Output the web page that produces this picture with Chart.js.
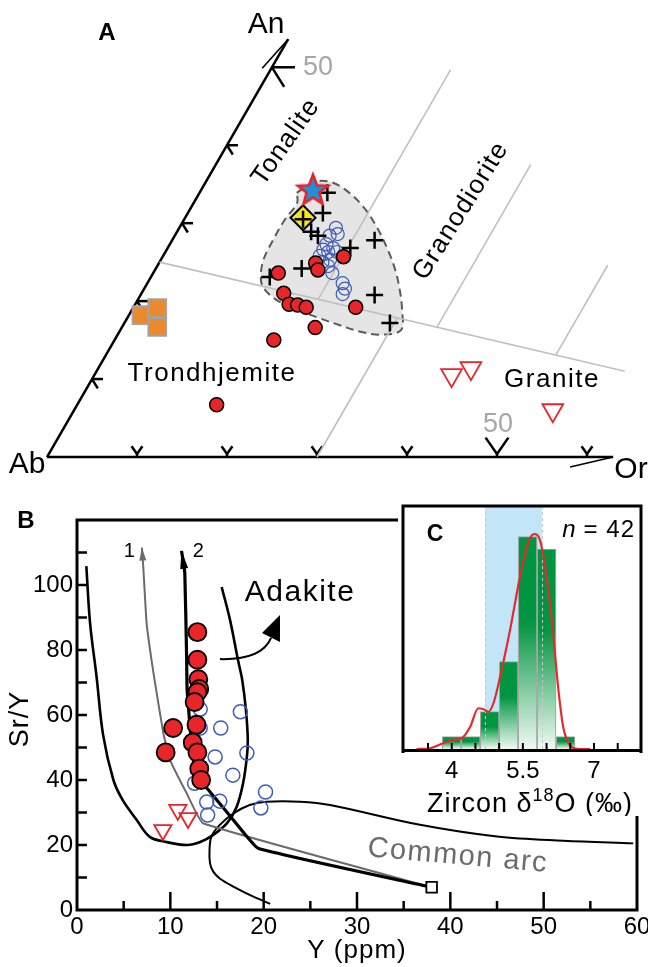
<!DOCTYPE html>
<html>
<head>
<meta charset="utf-8">
<script src="https://cdn.jsdelivr.net/npm/chart.js@4.4.0/dist/chart.umd.min.js"></script>
<style>
  html, body { margin: 0; padding: 0; background: #fff; }
  #wrap { position: relative; width: 648px; height: 967px; overflow: hidden; }
  canvas { position: absolute; }
  #chartA { left: 0; top: 0; }
  #chartB { left: 0; top: 485px; }
  #chartC { left: 398px; top: 500px; background: #fff; }
</style>
</head>
<body>
<div id="wrap">
  <canvas id="chartA" width="648" height="485"></canvas>
  <canvas id="chartB" width="648" height="482"></canvas>
  <canvas id="chartC" width="250" height="316"></canvas>
</div>
<script>
// ---------- Panel A: An-Ab-Or ternary, values are [An %, Or %] ----------
const aRedCircles = [[23.6, 13.9], [21.0, 15.8], [19.6, 17.1], [19.5, 18.1], [19.2, 19.2], [16.6, 21.5],
  [15.0, 17.7], [6.7, 15.5], [24.9, 17.4], [24.0, 18.1], [25.7, 20.1], [19.2, 24.7]];
const aPlusSigns = [[33.9, 14.2], [31.3, 15.0], [28.9, 14.9], [28.4, 15.9], [24.2, 16.2], [23.1, 13.2],
  [27.8, 22.5], [26.8, 20.3], [20.8, 26.0], [17.2, 29.5], [30.5, 13.2]];
const aBlueCircles = [[29.4, 17.4], [28.6, 18.0], [28.4, 17.2], [27.3, 17.4], [26.6, 17.4], [25.8, 17.4],
  [26.3, 18.1], [26.8, 18.4], [26.3, 19.1], [25.3, 18.8], [24.5, 19.0], [23.6, 19.9], [22.3, 21.7],
  [21.6, 22.3], [20.9, 22.4], [25.0, 18.1]];
const aStar = [[34.3, 12.4]];
const aDiamond = [[30.7, 13.1]];
const aOrangeSquares = [[18.2, 1.4], [19.1, 2.7], [16.7, 3.9]];
const aTriangles = [[10.5, 39.7], [11.4, 41.4], [6.0, 53.2]];
const aField = [[33.9, 10.8], [35.3, 12.1], [35.3, 13.8], [34.3, 16.0], [32.1, 19.1], [29.5, 21.9],
  [26.9, 24.3], [24.0, 26.7], [21.4, 28.5], [18.9, 30.0], [16.3, 31.2], [15.7, 29.5], [16.0, 27.1],
  [16.9, 24.1], [17.8, 21.4], [18.9, 18.4], [20.1, 15.5], [21.7, 13.2], [23.1, 12.2], [25.3, 11.4],
  [27.8, 11.2], [30.4, 11.2], [32.6, 11.5], [33.9, 10.8]];
const aClassLines = [
  [[25, 0], [11, 58.7]],
  [[0, 30], [17.9, 30]],
  [[20.3, 20], [49.7, 20]],
  [[16.7, 35], [37.5, 35]],
  [[13.1, 50], [24.6, 50]]
];
const anTicks = [10, 20, 30, 40, 50];
const orTicks = [10, 20, 30, 40, 50, 60];
const anAxisEnd = 53.6;
const orAxisEnd = 62.9;

// ---------- Panel B: Sr/Y vs Y (ppm) ----------
const bRedCircles = [[12.9, 85.5], [12.9, 77], [13, 71], [13.1, 68], [12.9, 67], [12.6, 64], [12.8, 57],
  [10.3, 56], [12.4, 51.5], [12.9, 48.5], [9.5, 48.5], [13.1, 43.5], [13.3, 40]];
const bBlueCircles = [[13.2, 61.8], [17.5, 61], [15.4, 56], [13.2, 56], [18.2, 48.3], [14.8, 47.1],
  [16.7, 41.5], [12.6, 39], [20.2, 36.3], [13.9, 33.2], [15.3, 33.5], [14, 29.2], [19.7, 31.4]];
const bTriangles = [[10.8, 30.8], [11.9, 28.3], [9.2, 24.6]];
const bSource = [[38, 7]];
const adakiteField = [[1, 105.8], [1.4, 88.3], [2.1, 71.7], [2.8, 53.8], [3.9, 40], [4.9, 33.8], [6.4, 27.7],
  [7.8, 22.5], [9.6, 20.9], [11.8, 20], [13.2, 20.9], [14.6, 23.1], [16.1, 26.8], [17.1, 31.7], [17.8, 39.1],
  [18.2, 47.1], [18.3, 52.3], [18.1, 61.5], [17.7, 70.8], [17.25, 76.9], [16.4, 89.2], [15.5, 99.4]];
const commonArcField = [[20.7, 1.9], [18.9, 4.1], [16.75, 7.2], [15.3, 9.7], [14.6, 11.8], [14.25, 14.4],
  [14.2, 18.5], [14.4, 22.6], [15.3, 26.2], [16.75, 29.7], [18.5, 32.3], [20.3, 33.3], [23.9, 33.3],
  [27.1, 32.3], [36.75, 26.2], [45, 22.6], [52.1, 21.3], [59.6, 20.5]];
const trend1 = [[6.95, 111.5], [7.1, 105.6], [7.46, 88.2], [8.2, 72.8], [9.25, 54.4], [9.96, 46.2],
  [11.75, 35.9], [13.5, 26.7], [38, 7]];
const trend2 = [[11.2, 110.5], [11.55, 103.7], [11.75, 77], [11.8, 67.7], [12.45, 46.2], [13.5, 39],
  [15, 33.8], [16.75, 27.7], [19.4, 19], [38, 7]];

// ---------- Panel C: zircon d18O histogram ----------
const binCenters = [4.0, 4.4, 4.8, 5.2, 5.6, 6.0, 6.4];
const binCounts = [1, 1, 3, 7, 17, 16, 1];
const kdeX = [3.26, 3.54, 3.82, 4.03, 4.21, 4.39, 4.56, 4.67, 4.77, 4.88, 5.02, 5.23, 5.44, 5.62, 5.74,
  5.86, 6.0, 6.13, 6.25, 6.35, 6.49, 6.67, 6.92];
const kdeY = [0, 0.06, 0.46, 0.72, 0.86, 1.78, 3.26, 3.18, 2.98, 3.66, 5.78, 9.52, 13.78, 16.58, 17.2,
  16.72, 13.78, 9.52, 4.72, 1.78, 0.32, 0, 0];
const mantleBand = [4.7, 5.9];
const cTickValues = [4, 5.5, 7];
const cMinorTicks = [3.5, 4, 4.5, 5, 5.5, 6, 6.5, 7, 7.5];

const FONT = "'Liberation Sans', Arial, Helvetica, sans-serif";
const RED = '#e8262a';
const BLUE = '#3f5cb5';
Chart.defaults.font.family = FONT;
Chart.defaults.color = '#000';

// --- helpers ---
const SQ3 = Math.sqrt(3);
const toXY = (an, or) => ({ x: (or + an / 2) / 100, y: an * SQ3 / 200 });
const tern = arr => arr.map(([an, or]) => toXY(an, or));
const xy = arr => arr.map(([x, y]) => ({ x, y }));

function seg(ctx, p, q) {
  ctx.beginPath();
  ctx.moveTo(p[0], p[1]);
  ctx.lineTo(q[0], q[1]);
  ctx.stroke();
}

function label(ctx, str, x, y, o = {}) {
  ctx.save();
  ctx.font = o.font || `24px ${FONT}`;
  ctx.fillStyle = o.color || '#000';
  ctx.textAlign = o.align || 'center';
  ctx.textBaseline = o.baseline || 'middle';
  if (o.spacing) ctx.letterSpacing = o.spacing + 'px';
  ctx.translate(x, y);
  if (o.rot) ctx.rotate(o.rot * Math.PI / 180);
  ctx.fillText(str, 0, 0);
  ctx.restore();
}

const starImg = (() => {
  const c = document.createElement('canvas');
  c.width = 40; c.height = 40;
  const g = c.getContext('2d');
  g.beginPath();
  for (let i = 0; i < 10; i++) {
    const r = i % 2 ? 6.8 : 16;
    const a = -Math.PI / 2 + i * Math.PI / 5;
    g.lineTo(20 + r * Math.cos(a), 21 + r * Math.sin(a));
  }
  g.closePath();
  g.fillStyle = '#1f8fd6';
  g.fill();
  g.lineWidth = 2.6;
  g.strokeStyle = '#e3252b';
  g.stroke();
  return c;
})();

// --- Panel A plugin: triangle frame, ticks, labels ---
const ternaryFrame = {
  id: 'ternaryFrame',
  beforeDatasetsDraw(chart) {
    const { ctx, scales: { x, y } } = chart;
    const P = (an, or) => { const p = toXY(an, or); return [x.getPixelForValue(p.x), y.getPixelForValue(p.y)]; };
    ctx.save();
    ctx.strokeStyle = '#000';
    ctx.lineWidth = 2.5;
    seg(ctx, P(0, 0), P(anAxisEnd, 0));
    seg(ctx, P(0, 0), P(0, orAxisEnd));
    anTicks.forEach(v => {
      const [px, py] = P(v, 0);
      const L = v === 50 ? 23 : 11;
      seg(ctx, [px, py], [px + L, py]);
      seg(ctx, [px, py], [px + L * 0.53, py + L * 0.85]);
    });
    orTicks.forEach(v => {
      const [px, py] = P(0, v);
      const L = v === 50 ? 20 : 9.5;
      const s = 3;
      seg(ctx, [px, py], [px, py - s]);
      seg(ctx, [px, py - s], [px - L * 0.57, py - s - L * 0.82]);
      seg(ctx, [px, py - s], [px + L * 0.57, py - s - L * 0.82]);
    });
    ctx.lineWidth = 1.6;
    const a = P(anAxisEnd, 0);
    seg(ctx, a, [a[0] - 26, a[1] + 29]);
    const o = P(0, orAxisEnd);
    seg(ctx, o, [o[0] - 43, o[1] + 10]);
    ctx.restore();
  },
  afterDatasetsDraw(chart) {
    const ctx = chart.ctx;
    label(ctx, 'A', 107, 33, { font: `bold 24px ${FONT}` });
    label(ctx, 'An', 266, 25, { font: `30px ${FONT}` });
    label(ctx, 'Ab', 27, 465, { font: `30px ${FONT}` });
    label(ctx, 'Or', 631, 470, { font: `30px ${FONT}` });
    label(ctx, '50', 318, 68, { font: `27px ${FONT}`, color: '#a6a6a6' });
    label(ctx, '50', 498, 425, { font: `27px ${FONT}`, color: '#a6a6a6' });
    label(ctx, 'Tonalite', 286, 142, { font: `26px ${FONT}`, spacing: 1.2, rot: -55 });
    label(ctx, 'Granodiorite', 461, 211, { font: `26px ${FONT}`, spacing: 1.2, rot: -58 });
    label(ctx, 'Trondhjemite', 212, 374, { font: `26px ${FONT}`, spacing: 1.5 });
    label(ctx, 'Granite', 552, 380, { font: `26px ${FONT}`, spacing: 1.5 });
  }
};

new Chart(document.getElementById('chartA'), {
  type: 'scatter',
  data: {
    datasets: [
      { data: tern(aStar), pointStyle: starImg, order: 0 },
      { data: tern(aRedCircles), pointRadius: 7, pointBackgroundColor: RED, pointBorderColor: '#000',
        pointBorderWidth: 1.5, order: 1 },
      { data: tern(aPlusSigns), pointStyle: 'cross', pointRadius: 8.5, pointBorderColor: '#000',
        pointBorderWidth: 2.5, order: 2 },
      { data: tern(aDiamond), pointStyle: 'rectRot', pointRadius: 12.5, pointBackgroundColor: '#f6e51b',
        pointBorderColor: '#000', pointBorderWidth: 2, order: 3 },
      { data: tern(aBlueCircles), pointRadius: 6.5, pointBackgroundColor: 'rgba(0,0,0,0)',
        pointBorderColor: BLUE, pointBorderWidth: 1.2, order: 4 },
      { data: tern(aOrangeSquares), pointStyle: 'rect', pointRadius: 12.5, pointBackgroundColor: '#eb8a2c',
        pointBorderColor: '#a3a3a3', pointBorderWidth: 2, order: 5 },
      { data: tern(aTriangles), pointStyle: 'triangle', pointRotation: 180, pointRadius: 12,
        pointBackgroundColor: 'rgba(0,0,0,0)', pointBorderColor: RED, pointBorderWidth: 1.8, order: 5 },
      ...aClassLines.map(l => ({ data: tern(l), showLine: true, borderColor: '#c0c0c0', borderWidth: 1.6,
        pointRadius: 0, order: 8 })),
      { data: tern(aField), showLine: true, fill: 'shape', backgroundColor: '#e5e5e5', borderColor: '#5a5a5a',
        borderDash: [8, 5], borderWidth: 2, tension: 0.35, pointRadius: 0, order: 9 }
    ]
  },
  options: {
    responsive: false, animation: false, events: [], devicePixelRatio: 1,
    layout: { padding: 0, autoPadding: false },
    plugins: { legend: { display: false }, tooltip: { enabled: false } },
    scales: {
      x: { display: false, min: -47 / 900, max: 601 / 900 },
      y: { display: false, min: -28 / 900, max: 457 / 900 }
    }
  },
  plugins: [ternaryFrame]
});

// --- Panel B plugin: box, inward ticks, arrows, labels ---
const srYFrame = {
  id: 'srYFrame',
  beforeDatasetsDraw(chart) {
    const { ctx, chartArea: a, scales: { x, y } } = chart;
    ctx.save();
    ctx.strokeStyle = '#000';
    ctx.lineWidth = 3;
    ctx.strokeRect(a.left, a.top, a.right - a.left, a.bottom - a.top);
    ctx.lineWidth = 2.5;
    for (let v = 5; v < 60; v += 5) {
      const px = x.getPixelForValue(v);
      seg(ctx, [px, a.bottom], [px, a.bottom - (v % 10 === 0 ? 18 : 9)]);
    }
    for (let v = 10; v < 120; v += 10) {
      const py = y.getPixelForValue(v);
      seg(ctx, [a.left, py], [a.left + 10, py]);
    }
    ctx.restore();
  },
  afterDatasetsDraw(chart) {
    const { ctx, scales: { x, y } } = chart;
    const P = (vx, vy) => [x.getPixelForValue(vx), y.getPixelForValue(vy)];
    const arrowHead = (line, color, len, half) => {
      const [tx, ty] = P(...line[0]);
      const [nx, ny] = P(...line[1]);
      const d = Math.hypot(nx - tx, ny - ty);
      const ux = (nx - tx) / d, uy = (ny - ty) / d;
      ctx.beginPath();
      ctx.moveTo(tx, ty);
      ctx.lineTo(tx + ux * len - uy * half, ty + uy * len + ux * half);
      ctx.lineTo(tx + ux * len + uy * half, ty + uy * len - ux * half);
      ctx.closePath();
      ctx.fillStyle = color;
      ctx.fill();
    };
    ctx.save();
    arrowHead(trend1, '#6b6b6b', 13, 3.5);
    arrowHead(trend2, '#000', 18, 4);
    // adakite arrow
    ctx.strokeStyle = '#000';
    ctx.lineWidth = 2;
    const s0 = P(15.32, 77.2), c0 = P(19.82, 76.9), e0 = P(20.79, 83.7);
    ctx.beginPath();
    ctx.moveTo(...s0);
    ctx.quadraticCurveTo(...c0, ...e0);
    ctx.stroke();
    const t = P(21.75, 90.8), b1 = P(19.82, 85.2), b2 = P(21.75, 82.5);
    ctx.beginPath();
    ctx.moveTo(...t); ctx.lineTo(...b1); ctx.lineTo(...b2); ctx.closePath();
    ctx.fillStyle = '#000';
    ctx.fill();
    ctx.restore();

    label(ctx, 'B', 26, 36, { font: `bold 24px ${FONT}` });
    label(ctx, 'Sr/Y', 21, 234, { font: `27px ${FONT}`, spacing: 1, rot: -90 });
    label(ctx, 'Y (ppm)', 357, 466, { font: `26px ${FONT}`, spacing: 1 });
    label(ctx, '1', ...P(5.6, 110.2), { font: `20px ${FONT}` });
    label(ctx, '2', ...P(13, 110.2), { font: `20px ${FONT}` });
    label(ctx, 'Adakite', ...P(23.9, 97.5), { font: `30px ${FONT}`, spacing: 1.5 });
    label(ctx, 'Common arc', ...P(40.8, 16.6), { font: `29px ${FONT}`, spacing: 1.5, color: '#6b6b6b', rot: 5 });
  }
};

new Chart(document.getElementById('chartB'), {
  type: 'scatter',
  data: {
    datasets: [
      { data: xy(bRedCircles), pointRadius: 9, pointBackgroundColor: RED, pointBorderColor: '#000',
        pointBorderWidth: 1.8, order: 0 },
      { data: xy(bTriangles), pointStyle: 'triangle', pointRotation: 180, pointRadius: 10,
        pointBackgroundColor: 'rgba(0,0,0,0)', pointBorderColor: RED, pointBorderWidth: 1.8, order: 1 },
      { data: xy(bBlueCircles), pointRadius: 7, pointBackgroundColor: 'rgba(0,0,0,0)', pointBorderColor: BLUE,
        pointBorderWidth: 1.5, order: 2 },
      { data: xy(bSource), pointStyle: 'rect', pointRadius: 7.5, pointBackgroundColor: '#fff',
        pointBorderColor: '#000', pointBorderWidth: 1.8, order: 3 },
      { data: xy(trend2), showLine: true, borderColor: '#000', borderWidth: 3.2, tension: 0.1, pointRadius: 0, order: 4 },
      { data: xy(trend1), showLine: true, borderColor: '#6b6b6b', borderWidth: 2, tension: 0.1, pointRadius: 0, order: 5 },
      { data: xy(adakiteField), showLine: true, borderColor: '#000', borderWidth: 2.6, tension: 0.35, pointRadius: 0, order: 6 },
      { data: xy(commonArcField), showLine: true, borderColor: '#000', borderWidth: 2, tension: 0.35, pointRadius: 0, order: 6 }
    ]
  },
  options: {
    responsive: false, animation: false, events: [], devicePixelRatio: 1,
    layout: { padding: { top: 35, right: 11, bottom: 0, left: 0 }, autoPadding: false },
    plugins: { legend: { display: false }, tooltip: { enabled: false } },
    scales: {
      x: {
        type: 'linear', min: 0, max: 60,
        grid: { display: false, drawTicks: false }, border: { display: false },
        ticks: { stepSize: 10, padding: 3, font: { size: 24 }, color: '#000' },
        afterFit(s) { s.height = 57; s.paddingLeft = 0; s.paddingRight = 0; }
      },
      y: {
        type: 'linear', min: 0, max: 120,
        grid: { display: false, drawTicks: false }, border: { display: false },
        ticks: { stepSize: 20, padding: 4, font: { size: 24 }, color: '#000', callback: v => (v > 100 ? '' : v) },
        afterFit(s) { s.width = 77; s.paddingTop = 0; s.paddingBottom = 0; }
      }
    }
  },
  plugins: [srYFrame]
});

// --- Panel C plugin: mantle band, frame, ticks, labels ---
const zirconFrame = {
  id: 'zirconFrame',
  beforeDatasetsDraw(chart) {
    const { ctx, chartArea: a, scales: { x } } = chart;
    const x0 = x.getPixelForValue(mantleBand[0]), x1 = x.getPixelForValue(mantleBand[1]);
    ctx.save();
    ctx.fillStyle = '#c2e5f7';
    ctx.fillRect(x0, a.top, x1 - x0, a.bottom - a.top);
    ctx.restore();
  },
  afterDatasetDraw(chart, args) {
    if (args.index !== 0) return;
    const { ctx, chartArea: a, scales: { x } } = chart;
    ctx.save();
    ctx.strokeStyle = '#c8c8c8';
    ctx.lineWidth = 1;
    ctx.setLineDash([3, 3]);
    mantleBand.forEach(v => {
      const px = Math.round(x.getPixelForValue(v)) + 0.5;
      seg(ctx, [px, a.top], [px, a.bottom]);
    });
    ctx.restore();
  },
  afterDraw(chart) {
    const { ctx, chartArea: a, scales: { x } } = chart;
    ctx.save();
    ctx.strokeStyle = '#000';
    ctx.lineWidth = 3;
    ctx.beginPath();
    ctx.moveTo(a.left, a.bottom + 4);
    ctx.lineTo(a.left, a.top);
    ctx.lineTo(a.right, a.top);
    ctx.lineTo(a.right, a.bottom + 4);
    ctx.stroke();
    seg(ctx, [a.left, a.bottom + 1.5], [a.right, a.bottom + 1.5]);
    ctx.lineWidth = 2;
    cMinorTicks.forEach(v => {
      const px = x.getPixelForValue(v);
      seg(ctx, [px, a.bottom], [px, a.bottom - 6]);
    });
    ctx.restore();

    label(ctx, 'C', 37, 35, { font: `bold 23px ${FONT}` });
    label(ctx, '= 42', 237, 30, { font: `24px ${FONT}`, align: 'right', spacing: 1 });
    ctx.save();
    ctx.font = `24px ${FONT}`;
    ctx.letterSpacing = '1px';
    const w42 = ctx.measureText('= 42').width;
    ctx.restore();
    label(ctx, 'n', 237 - w42 - 8, 30, { font: `italic 24px ${FONT}`, align: 'right' });

    // axis title with superscript
    ctx.save();
    const big = `27px ${FONT}`, small = `18px ${FONT}`;
    const parts = [['Zircon δ', big, 0], ['18', small, -11], ['O (‰)', big, 0]];
    ctx.letterSpacing = '1px';
    let total = 0;
    parts.forEach(p => { ctx.font = p[1]; total += ctx.measureText(p[0]).width; });
    let cx = 132 - total / 2;
    ctx.fillStyle = '#000';
    ctx.textBaseline = 'alphabetic';
    parts.forEach(p => {
      ctx.font = p[1];
      ctx.fillText(p[0], cx, 312 + p[2]);
      cx += ctx.measureText(p[0]).width;
    });
    ctx.restore();
  }
};

new Chart(document.getElementById('chartC'), {
  type: 'bar',
  data: {
    datasets: [
      {
        type: 'bar',
        data: binCenters.map((c, i) => ({ x: c, y: binCounts[i] })),
        barPercentage: 1, categoryPercentage: 1,
        borderColor: '#a6a6a6', borderWidth: 1.2,
        backgroundColor(ctx) {
          const chart = ctx.chart;
          if (!chart.chartArea || ctx.type !== 'data') return '#009540';
          const ys = chart.scales.y;
          const top = ys.getPixelForValue(ctx.raw.y), base = ys.getPixelForValue(0);
          const g = chart.ctx.createLinearGradient(0, top, 0, base);
          g.addColorStop(0, '#009540');
          g.addColorStop(0.4, '#009540');
          g.addColorStop(1, '#f1f9f3');
          return g;
        },
        order: 1
      },
      {
        type: 'line',
        data: kdeX.map((v, i) => ({ x: v, y: kdeY[i] })),
        borderColor: '#e52a2f', borderWidth: 2.2, pointRadius: 0,
        cubicInterpolationMode: 'monotone', order: 0
      }
    ]
  },
  options: {
    responsive: false, animation: false, events: [], devicePixelRatio: 1,
    layout: { padding: { top: 6, right: 7, bottom: 0, left: 5 }, autoPadding: false },
    plugins: { legend: { display: false }, tooltip: { enabled: false } },
    scales: {
      x: {
        type: 'linear', min: 2.973, max: 7.991, offset: false,
        grid: { display: false, drawTicks: false }, border: { display: false },
        ticks: { padding: 8, font: { size: 24 }, color: '#000' },
        afterBuildTicks(s) { s.ticks = cTickValues.map(v => ({ value: v })); },
        afterFit(s) { s.height = 67; s.paddingLeft = 0; s.paddingRight = 0; }
      },
      y: { display: false, min: 0, max: 19.44 }
    }
  },
  plugins: [zirconFrame]
});
</script>
</body>
</html>
